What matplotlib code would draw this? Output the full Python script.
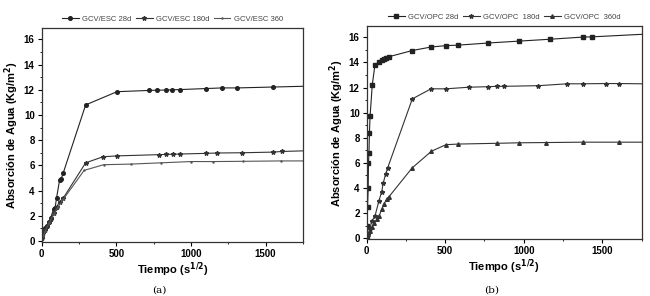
import matplotlib
matplotlib.use("Agg")
import matplotlib.pyplot as plt
from matplotlib.ticker import MultipleLocator

# ---- Data (a) GCV/ESC ----
a28_x = [0, 10, 20, 35, 50, 60, 80, 90, 100, 120, 130, 145, 295, 505, 720, 775, 830, 875, 930, 1100, 1210, 1310, 1550, 1750]
a28_y = [0.3, 0.8, 1.05, 1.2, 1.5, 1.8, 2.5, 2.6, 3.4, 4.8, 4.9, 5.4, 10.8, 11.85, 11.95, 11.97, 11.98, 12.0, 12.02, 12.1, 12.15, 12.15, 12.22, 12.28]
a180_x = [0, 10, 20, 35, 50, 60, 80, 100, 120, 145, 295, 411, 504, 789, 833, 877, 929, 1100, 1178, 1344, 1549, 1607, 1750]
a180_y = [0.2, 0.6, 0.9, 1.2, 1.5, 1.7, 2.2, 2.7, 3.1, 3.4, 6.2, 6.68, 6.75, 6.85, 6.87, 6.88, 6.9, 6.95, 6.98, 7.0, 7.05, 7.1, 7.15]
a360_x = [0, 10, 25, 50, 80, 110, 145, 285, 415, 600, 800, 1000, 1150, 1350, 1600, 1750]
a360_y = [0.1, 0.4, 0.8, 1.4, 2.1, 2.7, 3.3, 5.6, 6.05, 6.1, 6.2, 6.3, 6.3, 6.32, 6.35, 6.35]

# ---- Data (b) GCV/OPC ----
b28_x = [0, 3, 6, 10, 12, 15, 18, 22, 36, 53, 80, 95, 110, 125, 140, 291, 410, 505, 584, 775, 970, 1168, 1375, 1437, 1750]
b28_y = [0.2, 1.0, 2.5, 4.0, 6.0, 6.8, 8.4, 9.7, 12.2, 13.8, 14.05, 14.2, 14.3, 14.38, 14.45, 14.95, 15.23, 15.34, 15.38, 15.55, 15.7, 15.85, 16.02, 16.04, 16.24]
b180_x = [0, 11, 21, 32, 53, 79, 96, 106, 121, 134, 291, 410, 505, 654, 775, 828, 877, 1093, 1278, 1375, 1524, 1607, 1750]
b180_y = [0.1, 0.34, 0.74, 1.35, 1.75, 3.0, 3.7, 4.4, 5.1, 5.6, 11.1, 11.9, 11.9, 12.03, 12.07, 12.1, 12.1, 12.15, 12.3, 12.3, 12.32, 12.32, 12.3]
b360_x = [0, 10, 20, 35, 50, 65, 79, 96, 110, 127, 142, 290, 413, 505, 584, 828, 970, 1140, 1375, 1608, 1750]
b360_y = [0.1, 0.3, 0.6, 0.9, 1.2, 1.5, 1.75, 2.3, 2.7, 3.1, 3.3, 5.6, 6.93, 7.45, 7.5, 7.56, 7.6, 7.62, 7.65, 7.65, 7.65]

labels_a = ["GCV/ESC 28d", "GCV/ESC 180d", "GCV/ESC 360"]
labels_b = ["GCV/OPC 28d", "GCV/OPC  180d", "GCV/OPC  360d"]

plt.rcParams['font.family'] = ['Liberation Sans', 'DejaVu Sans']

fig = plt.figure(figsize=(6.5, 2.96), dpi=100)
axA = fig.add_axes([0.064, 0.182, 0.402, 0.723])
axB = fig.add_axes([0.564, 0.191, 0.423, 0.721])

lc = '#222222'
def draw(ax, series, labels, markers, colors, msizes):
    handles = []
    for (x, y), lab, m, c, ms in zip(series, labels, markers, colors, msizes):
        h, = ax.plot(x, y, color=c, lw=0.8, marker=m, ms=ms, mfc=c, mec=c,
                     markevery=slice(0, len(x) - 1), label=lab, clip_on=True)
        handles.append(h)
    ax.set_xlim(0, 1750)
    ax.set_ylim(-0.1, 16.9)
    ax.xaxis.set_major_locator(MultipleLocator(500))
    ax.xaxis.set_minor_locator(MultipleLocator(250))
    ax.yaxis.set_major_locator(MultipleLocator(2))
    ax.yaxis.set_minor_locator(MultipleLocator(1))
    ax.tick_params(which='major', direction='out', length=3, width=0.8, labelsize=7, pad=2)
    ax.tick_params(which='minor', direction='out', length=1.5, width=0.6)
    for lab in ax.get_xticklabels() + ax.get_yticklabels():
        lab.set_fontweight('bold')
    for s in ax.spines.values():
        s.set_linewidth(0.9)
        s.set_color('#333333')
    ax.set_xlabel("Tiempo (s$^{\\mathbf{1/2}}$)", fontsize=8, fontweight='bold', labelpad=1)
    ax.set_ylabel("Absorción de Agua (Kg/m$^{\\mathbf{2}}$)", fontsize=8, fontweight='bold', labelpad=2)
    ax.legend(handles=handles, loc='lower center', bbox_to_anchor=(0.5, 1.0), ncol=3,
              frameon=False, fontsize=5.5, handlelength=2.2, columnspacing=0.6,
              handletextpad=0.4, borderaxespad=0.3, labelcolor='#444444')

draw(axA, [(a28_x, a28_y), (a180_x, a180_y), (a360_x, a360_y)], labels_a,
     ['o', '*', '.'], [lc, '#333333', '#555555'], [2.6, 3.2, 1.5])
draw(axB, [(b28_x, b28_y), (b180_x, b180_y), (b360_x, b360_y)], labels_b,
     ['s', '*', '^'], [lc, '#333333', '#333333'], [2.4, 3.2, 2.6])

fig.text(0.245, 0.012, "(a)", family='DejaVu Serif', fontsize=7.5, ha='center')
fig.text(0.757, 0.012, "(b)", family='DejaVu Serif', fontsize=7.5, ha='center')

fig.savefig("out.png", dpi=100)
